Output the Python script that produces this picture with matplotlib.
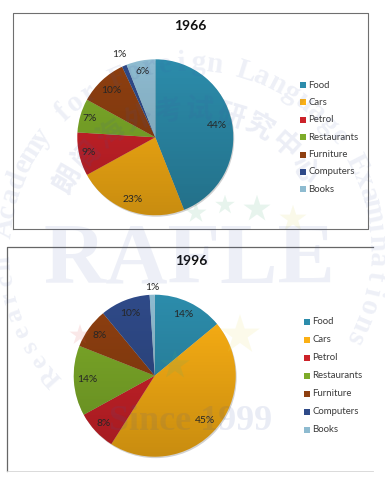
import numpy as np
import matplotlib
matplotlib.use("Agg")
import matplotlib.pyplot as plt
from matplotlib.patches import Circle

categories = ["Food", "Cars", "Petrol", "Restaurants", "Furniture", "Computers", "Books"]
values_1966 = [44, 23, 9, 7, 10, 1, 6]
values_1996 = [14, 45, 8, 14, 8, 10, 1]
colors = ["#2c8cab", "#fbb014", "#cc2229", "#7dab29", "#8e3f10", "#2f4a88", "#8ebbd0"]

W, H = 385, 493
label_font = ["Lato", "DejaVu Sans"]
ink = "#3a3a3a"

fig = plt.figure(figsize=(W / 100, H / 100), dpi=100, facecolor="white")


def draw_pie(cx, cy, r, values, label_dist):
    ax = fig.add_axes([(cx - r) / W, 1 - (cy + r) / H, 2 * r / W, 2 * r / H])
    ax.axis("off")
    ax.add_patch(Circle((0.012, -0.018), 1.0, color="#999999", alpha=0.45, lw=0, clip_on=False))
    wedges, _ = ax.pie(values, colors=colors, startangle=90, counterclock=False, radius=1,
                       center=(0, 0), frame=False, wedgeprops={"lw": 0})
    # darker towards the bottom, like the office chart shading
    shade = np.zeros((64, 2, 4))
    shade[:, :, 3] = np.linspace(0.0, 0.2, 64)[:, None]
    im = ax.imshow(shade, extent=(-1, 1, -1, 1), origin="upper", aspect="auto", zorder=3)
    im.set_clip_path(Circle((0, 0), 1.0, transform=ax.transData))
    ax.set_xlim(-1, 1)
    ax.set_ylim(-1, 1)
    ax.set_aspect("auto")
    for w, v, d in zip(wedges, values, label_dist):
        a = np.deg2rad((w.theta1 + w.theta2) / 2)
        ax.text(d * np.cos(a), d * np.sin(a), "%d%%" % v, ha="center", va="center",
                fontsize=7.4, color="#262626", family=label_font, zorder=5, clip_on=False)


draw_pie(155.3, 137.3, 78, values_1966, [0.81, 0.85, 0.87, 0.87, 0.82, 1.15, 0.86])
draw_pie(154.7, 375.7, 81, values_1996, [0.83, 0.83, 0.86, 0.83, 0.84, 0.82, 1.09])

# overlay in pixel coordinates: frames, titles, legends, watermark
over = fig.add_axes([0, 0, 1, 1], facecolor="none")
over.set_xlim(0, W)
over.set_ylim(H, 0)
over.axis("off")

over.plot([13, 13, 368, 368, 13], [229, 13, 13, 229, 229], color="#6f6f6f", lw=0.8)
over.plot([7, 7, 373], [471, 247, 247], color="#666666", lw=0.9)
over.plot([7, 373], [471, 471], color="#d5d5d5", lw=0.6)

over.text(190, 26.5, "1966", ha="center", va="center", fontsize=10, fontweight="bold",
          family=label_font, color="#111111")
over.text(191, 261, "1996", ha="center", va="center", fontsize=10, fontweight="bold",
          family=label_font, color="#111111")


def draw_legend(x, y0, step):
    for i, (name, c) in enumerate(zip(categories, colors)):
        y = y0 + i * step
        over.scatter([x], [y], marker="s", s=15, color=c, lw=0)
        over.text(x + 5.6, y, name, ha="left", va="center", fontsize=6.9,
                  family=label_font, color=ink)


draw_legend(302.5, 85, 17.4)
draw_legend(307, 321.5, 18.05)


# watermark
def arc_text(text, cx, cy, r, start, end, **kw):
    angles = np.linspace(start, end, len(text))
    for ch, a in zip(text, angles):
        t = np.deg2rad(a)
        over.text(cx + r * np.sin(t), cy - r * np.cos(t), ch, rotation=-a,
                  rotation_mode="anchor", ha="center", va="center", **kw)


wm = dict(color="#3f56a8", alpha=0.09, family="Liberation Serif", fontweight="bold")
arc_text("Academy for Foreign Language Examinations", 190, 250, 187, -83, 118, fontsize=21, **wm)
arc_text("Research", 190, 250, 187, -132, -94, fontsize=19, **wm)
arc_text("朗阁海外考试研究中心", 190, 250, 140, -60, 55, fontsize=20, color="#3f56a8", alpha=0.1,
         family=["Noto Sans CJK SC", "DejaVu Sans"], fontweight="bold")
over.text(190, 262, "RAFLE", ha="center", va="center", fontsize=62, color="#3f56a8", alpha=0.09,
          family="Liberation Serif", fontweight="bold")
over.text(191, 421, "Since 1999", ha="center", va="center", fontsize=26, color="#3f56a8", alpha=0.11,
          family="Liberation Serif", fontweight="bold")

star_x = [196, 225, 257, 293, 240, 80, 175]
star_y = [213, 205, 209, 219, 335, 335, 365]
star_c = ["#4caf7a", "#4caf7a", "#4caf7a", "#d9d65a", "#e8e060", "#e05050", "#4caf7a"]
over.scatter(star_x, star_y, marker="*", s=[250, 220, 420, 420, 900, 250, 500], c=star_c, alpha=0.13, lw=0)

fig.savefig("out.png", dpi=100, facecolor="white")
